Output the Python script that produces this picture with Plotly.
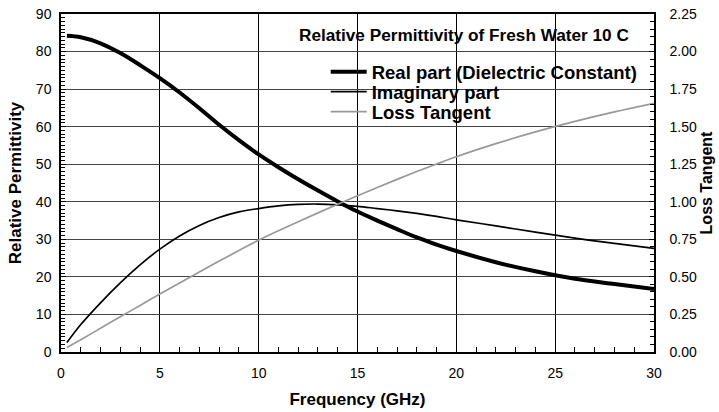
import plotly.graph_objects as go

# Relative permittivity of fresh water at 10 C
freq = [0.3, 1, 2, 3, 4, 5, 6, 7, 8, 9, 10, 11, 12, 13, 14, 15,
        16, 17, 18, 19, 20, 22, 24, 26, 28, 30]
real_part = [84.2, 83.8, 82.2, 79.6, 76.4, 72.9, 69.1, 64.9, 60.5, 56.4, 52.6, 49.2, 46.0, 43.0, 40.1, 37.4,
             35.0, 32.7, 30.5, 28.6, 26.9, 23.9, 21.5, 19.5, 18.1, 16.8]
imag_part = [2.5, 7.3, 13.1, 18.4, 23.2, 27.4, 30.9, 33.7, 35.8, 37.3, 38.2, 38.9, 39.3, 39.4, 39.2, 38.8,
             38.2, 37.6, 36.9, 36.1, 35.2, 33.6, 31.9, 30.3, 28.9, 27.6]
loss_tangent = [0.03, 0.082, 0.158, 0.235, 0.31, 0.386, 0.46, 0.533, 0.605, 0.675, 0.745, 0.807, 0.867, 0.926,
                0.984, 1.04, 1.095, 1.149, 1.201, 1.251, 1.30, 1.387, 1.465, 1.535, 1.598, 1.655]

font_family = "Liberation Sans, Arial, Helvetica, sans-serif"

fig = go.Figure()
fig.add_trace(go.Scatter(x=freq, y=real_part, mode="lines", line_shape="spline",
                         line={"color": "black", "width": 4},
                         name="Real part (Dielectric Constant)", legend="legend"))
fig.add_trace(go.Scatter(x=freq, y=imag_part, mode="lines", line_shape="spline",
                         line={"color": "black", "width": 1.7},
                         name="Imaginary part", legend="legend2"))
fig.add_trace(go.Scatter(x=freq, y=loss_tangent, mode="lines", line_shape="spline",
                         line={"color": "#999999", "width": 1.7},
                         name="Loss Tangent", yaxis="y2", legend="legend3"))

# white boxes behind title and legend (above grid, below curves)
fig.add_shape(type="rect", xref="paper", yref="paper", x0=0.344, x1=0.99, y0=0.893, y1=0.997,
              fillcolor="white", line={"width": 0}, layer="between")
fig.add_shape(type="rect", xref="paper", yref="paper", x0=0.442, x1=0.98, y0=0.669, y1=0.882,
              fillcolor="white", line={"width": 0}, layer="between")

fig.add_annotation(text="Relative Permittivity of Fresh Water 10 C", xref="paper", yref="paper",
                   x=0.961, y=0.938, xanchor="right", yanchor="middle", showarrow=False,
                   font={"size": 17.2, "color": "black", "weight": "bold"})

legend_style = {"x": 0.4464, "xanchor": "left", "yanchor": "middle", "itemwidth": 36,
                "bgcolor": "rgba(0,0,0,0)", "borderwidth": 0,
                "font": {"size": 18.5, "weight": "bold", "color": "black"}}

fig.update_layout(
    width=719, height=412,
    margin={"l": 61, "r": 65, "t": 14, "b": 60},
    plot_bgcolor="white", paper_bgcolor="white",
    font={"family": font_family, "size": 14, "color": "black"},
    legend=dict(legend_style, y=0.828),
    legend2=dict(legend_style, y=0.769),
    legend3=dict(legend_style, y=0.710),
    showlegend=True,
)
fig.update_xaxes(range=[0, 30], dtick=5, showline=True, linewidth=1.5, linecolor="black", mirror=True,
                 showgrid=True, gridcolor="black", gridwidth=1, zeroline=False, automargin=False,
                 ticks="inside", ticklen=5, tickcolor="black", ticklabelstandoff=7,
                 minor={"dtick": 1, "ticks": "inside", "ticklen": 5, "tickcolor": "black", "showgrid": False},
                 title={"text": "Frequency (GHz)", "font": {"size": 17, "weight": "bold"}, "standoff": 14})
fig.update_layout(
    yaxis={"range": [0, 90], "dtick": 10, "showline": True, "linewidth": 1.5, "linecolor": "black",
           "mirror": True, "showgrid": True, "gridcolor": "#444444", "gridwidth": 1, "zeroline": False,
           "automargin": False, "ticks": "inside", "ticklen": 5, "tickcolor": "black", "ticklabelstandoff": 5,
           "minor": {"dtick": 1, "ticks": "inside", "ticklen": 4, "tickcolor": "black", "showgrid": False},
           "title": {"text": "Relative Permittivity", "font": {"size": 17, "weight": "bold"}, "standoff": 10}},
    yaxis2={"range": [0, 2.25], "dtick": 0.25, "tickformat": ".2f", "overlaying": "y", "side": "right",
            "showline": True, "linewidth": 1.5, "linecolor": "black", "showgrid": False, "zeroline": False,
            "automargin": False, "ticks": "inside", "ticklen": 5, "tickcolor": "black", "ticklabelstandoff": 11,
            "minor": {"dtick": 0.05, "ticks": "inside", "ticklen": 4, "tickcolor": "black", "showgrid": False},
            "title": {"text": "Loss Tangent", "font": {"size": 16, "weight": "bold"}, "standoff": 5}},
)

# drop the default 8px page margin so the figure fills the window
fig.write_html("out.html", config={"displayModeBar": False},
               post_script="document.body.style.margin = '0';")
